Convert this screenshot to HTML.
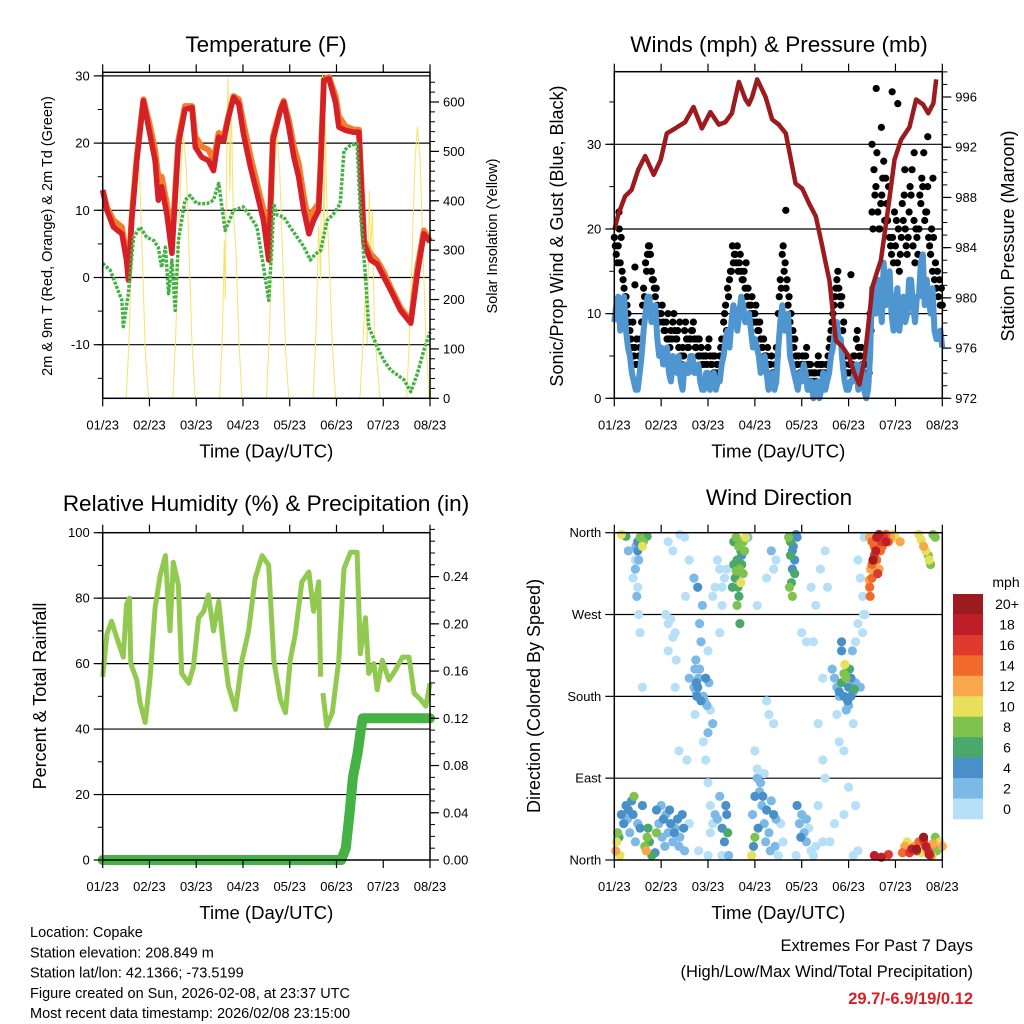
<!DOCTYPE html>
<html><head><meta charset="utf-8"><style>
body{margin:0;background:#fff;}
svg{display:block;font-family:"Liberation Sans",Arial,sans-serif;}
</style></head><body>
<svg id="s" width="1024" height="1024" viewBox="0 0 1024 1024"></svg>
<script>
// ---------- DATA ----------
const dayLabels = ["01/23","02/23","03/23","04/23","05/23","06/23","07/23","08/23"];
// Temperature (F)
const tempDays = [0,0.09,0.23,0.41,0.51,0.55,0.62,0.73,0.87,0.98,1.12,1.19,1.26,1.37,1.48,1.62,1.76,1.91,1.98,2.12,2.26,2.37,2.48,2.59,2.69,2.80,2.91,3.01,3.16,3.30,3.44,3.55,3.64,3.80,3.87,3.98,4.09,4.19,4.30,4.41,4.51,4.62,4.66,4.73,4.84,4.98,5.05,5.19,5.37,5.48,5.59,5.73,5.87,6.01,6.16,6.37,6.59,6.73,6.87,7.0];
const tempRed = [13,10,7.5,6.5,2.6,-0.4,8.5,17.4,26.3,22.4,17.4,11.5,13.5,9.5,3.6,19.9,25,25.3,19.4,17.9,17.4,15.9,20.9,20.4,23.9,26.8,25.8,21.4,16.4,12.5,8.5,2.6,20.4,24.9,26.1,22.4,17.9,15,10,6.5,8.5,10,16.4,29.3,29.6,26,22.4,21.9,21.6,21.6,5,2.6,2,0.1,-1.9,-4.9,-6.8,0.6,6.5,5.3];
const tempOrange = [13,10.5,8.5,7.5,3.5,0.5,9,18,26.5,23.5,19,15,15,11,5,20.5,25.5,25.5,21,19.5,19,17.5,21.5,21,24,27,26.5,23,18,14,10,4,21,25,26.3,23.5,19.5,17,12,8,10,11,17,29.5,29.8,27,24,22.5,22,22,5.5,3.5,2.5,0.8,-1.5,-4.5,-6.5,1.5,7,5.5];
const tdDays = [0,0.16,0.3,0.41,0.44,0.55,0.66,0.8,0.94,1.09,1.19,1.26,1.34,1.41,1.48,1.55,1.62,1.76,1.87,2.01,2.23,2.37,2.48,2.55,2.62,2.80,3.01,3.16,3.30,3.44,3.55,3.62,3.66,3.73,3.87,4.01,4.16,4.30,4.44,4.55,4.66,4.80,4.94,5.08,5.16,5.30,5.44,5.51,5.62,5.69,5.87,6.01,6.16,6.44,6.59,6.73,6.87,7.0];
const tdVals = [2.1,1.1,-1.4,-3.4,-7.3,-2.4,6,7.5,6,5.5,4.5,1.5,4.5,-2.4,2.6,-4.9,5.5,11.5,12.2,11,11,11.5,14,10.5,7,10,10.5,9,7.5,1.6,-3.4,5,11,9.3,9,7.5,6,4.6,2.6,3.5,4,8.5,9.5,11,18.9,19.7,19.9,10,0.1,-7.3,-10.3,-12.3,-13.8,-15.2,-17,-14.3,-10.8,-8.1];
const solarDays = [0.5,0.56,0.62,0.68,0.73,0.79,0.85,0.91,0.98, 1.5,1.56,1.62,1.68,1.73,1.79,1.85,1.91,1.98, 2.5,2.56,2.6,2.62,2.66,2.68,2.72,2.75,2.79,2.85,2.91,2.98, 3.5,3.56,3.62,3.68,3.73,3.79,3.85,3.91,3.98, 4.5,4.56,4.62,4.66,4.7,4.73,4.76,4.79,4.85,4.91,4.98, 5.5,5.56,5.62,5.66,5.7,5.73,5.77,5.81,5.86,5.93, 6.5,6.56,6.62,6.68,6.73,6.79,6.85,6.91,6.98];
const solarVals = [0,110,300,470,530,450,280,100,0, 0,120,310,480,530,460,290,110,0, 0,130,320,200,560,650,420,600,380,300,120,0, 0,120,300,470,540,450,280,100,0, 0,130,350,240,660,300,560,400,260,110,0, 0,100,220,110,420,300,380,140,80,0, 0,120,300,480,550,480,300,120,0];
// Winds (mph) & pressure (mb)
const windHours2 = 2; // sampling interval in hours
const windVals = [9,12,10,8,5,2,1,5,10,12,10,7, 6,4,3,5,3,2,4,3,5,3,2,1, 3,2,1,2,5,8,9,10,10,11,9,8, 7,5,4,3,2,1,6,11,8,5,3,1, 2,3,1,0,2,1,1,3,6,9,7,2, 1,2,4,3,1,1,13,10,12,16,12,10, 11,8,12,10,14,9,12,17,14,10,8,7,6];
const windVals2 = [11,8,12,6,3,1,3,8,12,9,11,5, 4,6,2,4,5,1,3,5,3,4,1,3, 1,3,2,4,7,6,11,8,12,9,10,6, 6,3,5,1,3,2,9,8,10,4,2,3, 4,1,2,1,0,3,2,5,8,7,4,1, 2,3,1,4,0,5,10,14,9,11,15,8, 13,10,9,14,11,12,16,11,12,13,7,8];
const gustVals = [19,18,15,12,8,5,4,9,16,18,14,11, 10,8,7,9,7,5,8,6,8,6,5,4, 6,4,3,5,9,13,15,17,16,14,12,11, 10,8,6,5,4,3,10,17,13,9,6,4, 4,5,3,2,4,3,3,6,10,14,11,4, 3,4,7,5,3,2,22,25,20,28,21,17, 18,15,21,17,24,16,20,25,22,17,14,12,11];
const gustVals2 = [17,16,13,10,6,4,6,13,17,15,12,9, 9,7,8,8,6,6,7,7,7,5,4,5, 5,3,4,7,11,14,16,18,15,13,11,10, 9,7,5,4,3,6,14,15,11,7,5,3, 4,4,2,3,3,3,4,8,12,13,8,3, 3,5,6,4,2,10,27,22,24,26,19,16, 16,19,20,22,18,19,23,21,19,15,13,11];
const gustVals3 = [18,20,14,11,7,6,5,11,15,17,13,10, 11,9,6,10,8,4,9,7,9,7,6,5, 7,5,4,6,10,12,18,16,17,15,13,12, 11,9,7,6,5,4,12,18,14,10,7,5, 5,6,4,3,5,4,4,7,11,15,12,5, 4,5,8,6,4,3,20,29,23,21,25,19, 21,17,24,19,27,20,24,29,25,20,16,14];
const gustVals4 = [16,19,12,9,9,7,7,12,18,14,13,10, 8,10,7,7,9,5,6,8,6,7,5,4, 4,5,3,6,8,15,17,15,14,16,10,9, 8,6,5,4,3,5,13,16,12,8,4,3, 3,4,3,2,4,2,5,9,13,12,9,3, 2,3,5,4,3,8,24,20,26,23,18,22, 20,23,18,25,21,17,26,22,18,19,15,13];
const gustOutDays = [5.05,3.66,5.59,5.93,6.05,0.44,0.44,6.69,0.1,0.75,6.4,6.2,5.5,5.7,6.8];
const gustOutVals = [14.6,22.2,36.6,36.2,34.8,15.5,13.4,30.9,22,17,29,27,30,32,26];
const presDays = [0,0.09,0.23,0.37,0.51,0.66,0.84,0.99,1.12,1.30,1.51,1.69,1.87,2.05,2.23,2.37,2.51,2.66,2.80,2.87,2.94,3.05,3.23,3.37,3.51,3.66,3.87,4.01,4.16,4.30,4.44,4.51,4.59,4.73,4.87,5.01,5.12,5.23,5.34,5.51,5.62,5.69,5.84,5.98,6.12,6.30,6.44,6.59,6.70,6.81,6.87];
const presVals = [985.4,986.7,988.1,988.6,990.2,991.3,989.8,991,993.1,993.5,994,995.2,993.5,994.8,993.8,994,994.7,997.2,995.8,995.4,996,997.4,996,994.2,993.8,993.1,989.1,988.7,987.5,986.5,984.1,982.8,981.4,976.6,976.1,975.3,974,973.1,975.1,980.9,982.2,983,987,991,992.6,993.6,995.8,995.4,994.7,995.5,997.4];
// Relative humidity & precipitation
const rhDays = [0,0.09,0.19,0.3,0.44,0.51,0.57,0.6,0.73,0.8,0.91,1.01,1.12,1.23,1.34,1.44,1.51,1.62,1.69,1.84,1.94,2.05,2.16,2.26,2.37,2.48,2.59,2.69,2.84,2.98,3.12,3.26,3.41,3.55,3.66,3.8,3.91,4.01,4.12,4.26,4.41,4.51,4.62,4.66];
const rhVals = [56,69,73,68,62,78,80,60,55,48,42,55,77,87,93,70,91,84,57,54,59,74,76,81,70,79,64,53,46,61,70,86,93,90,61,49,45,61,69,85,88,76,85,56];
const rhDays2 = [4.71,4.79,4.91,5.05,5.16,5.3,5.44,5.51,5.62,5.69,5.8,5.87,5.98,6.12,6.26,6.41,6.55,6.66,6.8,6.91,7.0];
const rhVals2 = [51,41,45,61,89,94,94,63,74,57,60,52,61,55,58,62,62,51,49,47,54];
const precipDays = [0,5.1,5.2,5.28,5.35,5.45,5.52,5.56,7.0];
const precipVals = [0,0,0.01,0.04,0.07,0.09,0.11,0.12,0.12];
// Wind direction (deg) colored by speed (mph)
const dirDays = [0.03,0.05,0.07,0.1,0.12,0.15,0.2,0.25,0.28,0.3,0.33,0.37,0.4,0.42,0.45,0.5,0.55,0.6,0.65,0.68,0.7,0.72,0.75,0.8,0.9,1.0,1.05,1.1,1.15,1.2,1.25,1.3,1.35,1.4,1.45,1.5,0.95,1.02,1.08,1.18,1.28,1.38,1.48,0.87,0.9,
0.15,0.25,0.55,0.6,0.62,0.7,0.5,0.52,0.45,0.48,0.5,0.55,0.52,0.6,0.3,0.5,0.4,0.45,0.46,
1.15,1.4,1.5,1.1,1.2,1.15,1.25,1.3,1.32,1.15,1.3,1.25,1.52,1.38,1.6,1.6,
1.7,1.78,1.82,1.85,1.8,1.75,1.78,1.72,1.82,1.9,1.95,1.92,1.98,1.85,1.75,2.02,2.05,2.0,1.95,1.9,2.1,2.0,1.88,1.72,1.55,1.6,1.8,2.0,1.74,1.76,1.7,
2.05,2.1,2.15,2.2,2.25,2.3,2.35,2.38,2.4,2.42,2.44,2.3,2.0,2.05,
2.3,2.25,2.2,2.3,2.25,2.1,2.15,2.35,2.4,
2.55,2.6,2.65,2.7,2.75,2.8,2.62,2.68,2.72,2.58,2.64,2.7,2.75,2.66,2.6,2.72,2.78,2.85,2.55,2.52,2.62,2.68,
2.95,3.0,3.05,3.1,3.15,3.2,3.25,3.3,3.35,3.4,3.45,2.97,2.93,3.0,3.07,3.17,3.23,3.33,3.43,3.5,3.55,3.6,3.05,3.12,3.2,
3.72,3.76,3.8,3.85,3.8,3.76,3.85,3.78,3.82,3.9,3.88,3.35,3.4,3.45,3.25,3.05,3.0,3.3,3.25,3.4,3.74,3.8,
3.9,3.95,4.0,4.05,4.1,4.15,4.2,4.25,3.98,4.1,3.88,4.3,4.35,4.45,
4.0,4.1,4.2,4.3,4.4,4.5,4.45,4.35,4.45,4.5,4.25,4.55,
4.7,4.75,4.8,4.85,4.9,4.92,4.95,5.0,5.05,5.1,5.15,4.85,4.85,4.8,4.9,4.95,5.0,5.02,5.08,5.15,5.2,5.1,4.8,4.75,4.9,4.65,5.25,4.98,5.05,5.12,
4.6,4.9,5.0,5.1,5.15,5.2,4.7,
5.2,5.25,5.3,5.32,5.35,5.3,5.33,
5.45,5.5,5.55,5.6,5.65,5.7,5.75,5.8,5.85,5.55,5.6,5.5,5.58,5.47,5.5,5.62,5.68,5.72,5.9,5.95,6.0,6.1,6.5,6.55,6.6,6.65,6.7,6.72,6.75,5.45,5.46,5.44,5.65,5.8,5.52,6.8,6.85,
5.55,5.7,5.85,6.15,6.2,6.25,6.3,6.35,6.4,6.45,6.5,6.55,6.6,6.65,6.7,6.75,6.8,6.85,6.9,6.95,7.0,6.45,6.72,6.78,6.6,6.88];
const dirDegs = [10,20,30,25,5,50,40,60,45,55,30,65,50,70,20,40,35,60,15,10,25,35,20,5,55,60,45,50,30,40,20,35,45,25,50,10,40,25,15,55,30,15,35,8,30,
358,356,355,345,350,356,350,330,320,290,300,250,270,190,340,340,310,330,345,
350,358,355,270,265,260,245,250,220,230,190,340,290,120,200,330,
310,300,260,240,200,195,190,210,210,180,200,175,170,175,185,195,165,140,110,130,150,230,280,160,110,40,10,5,220,180,190,
60,40,50,45,70,35,20,60,50,30,5,5,85,30,
300,320,330,280,250,290,300,310,320,
350,355,345,340,350,355,330,320,325,310,300,305,315,290,318,335,340,355,325,300,280,260,
50,70,90,75,60,40,55,30,65,50,45,15,5,25,35,70,20,10,15,5,40,20,100,85,95,
355,350,340,330,320,335,315,305,345,355,358,340,320,330,310,280,120,160,175,150,300,290,
60,40,50,30,20,35,10,5,25,45,5,15,60,20,
250,240,300,280,320,340,200,150,110,90,240,300,
200,190,185,195,205,215,200,190,180,185,195,240,230,180,180,165,170,210,230,240,260,150,130,160,120,210,190,175,200,188,
20,50,80,5,60,10,40,
330,310,290,270,270,250,355,
355,350,345,355,358,350,355,358,350,335,330,325,340,320,310,315,340,345,355,358,355,350,358,352,345,340,335,330,325,300,290,308,320,350,330,358,355,
5,3,6,8,15,20,8,12,15,10,20,8,25,15,10,5,18,25,12,20,15,12,6,4,22,10];
const dirSpeeds = [12,10,8,6,11,5,4,4,3,4,3,5,4,9,2,3,4,4,8,12,9,6,6,7,4,3,4,3,3,4,3,2,4,3,4,3,3,2,3,4,4,3,4,5,8,
10,6,9,10,8,6,4,2,2,2,1,1,1,1,2,4,1,1,2,
1,1,0,1,1,1,1,1,1,1,1,1,1,1,2,1,
3,4,2,3,3,4,4,2,2,2,4,2,2,4,3,2,1,2,1,1,2,1,2,1,1,1,1,1,3,4,2,
1,1,2,3,2,4,4,4,4,6,2,1,1,1,
1,1,1,1,1,1,1,1,1,
6,8,8,7,9,10,6,8,6,6,7,10,8,6,9,4,8,3,6,7,9,6,
3,4,3,2,2,2,4,2,3,4,2,5,10,8,4,4,3,3,2,1,1,1,1,2,1,
8,6,4,4,4,6,6,6,4,4,4,2,1,1,1,1,1,1,1,1,8,9,
4,3,2,2,2,1,1,1,4,2,1,1,1,1,
1,1,1,1,1,1,1,1,1,1,1,1,
2,2,4,6,8,10,8,4,4,2,2,4,4,2,4,2,2,6,2,1,1,1,1,1,1,2,2,4,4,6,
1,1,1,1,1,0,1,
1,1,1,1,1,1,0,
12,14,15,18,18,16,16,14,14,16,14,14,18,12,14,16,15,14,12,11,10,13,11,10,12,10,9,10,9,15,14,13,12,18,20,8,9,
18,18,16,14,12,10,16,18,12,16,14,10,20,18,16,14,12,8,6,10,12,20,18,10,16,8];
const cbLabels = ["20+","18","16","14","12","10","8","6","4","2","0"];
const cbColors = ["#9b1b1e","#bf1d2a","#e03a2f","#f26a2b","#f9a74b","#e8e05a","#7fc24d","#4aa86b","#4a90c8","#7cb9e6","#b6e0f8"];

// ---------- DRAW ----------
const NS="http://www.w3.org/2000/svg";
const svg=document.getElementById('s');
function el(tag,attrs,parent){const e=document.createElementNS(NS,tag);for(const k in attrs)e.setAttribute(k,attrs[k]);(parent||svg).appendChild(e);return e;}
function txt(x,y,s,size,anchor,parent,extra){const t=el('text',Object.assign({x:x,y:y,'font-size':size,'text-anchor':anchor||'middle',fill:'#000'},extra||{}),parent);t.textContent=s;return t;}
function lin(d0,d1,r0,r1){return v=>r0+(v-d0)*(r1-r0)/(d1-d0);}
function poly(xs,ys,fx,fy){return xs.map((x,i)=>fx(x).toFixed(1)+','+fy(ys[i]).toFixed(1)).join(' ');}

function panel(name){
  const g=el('g',{});
  
  
  return g;
}
function frame(g,L,R,T,B){const f=el('rect',{x:L,y:T,width:R-L,height:B-T,fill:'none',stroke:'#000','stroke-width':1.5},g);}
function xAxis(g,L,R,T,B){
  const fx=lin(0,7,L,R);
  const ga=el('g',{},g);
  dayLabels.forEach((s,i)=>{const x=fx(i);
    el('line',{x1:x,y1:B,x2:x,y2:B+8,stroke:'#000','stroke-width':1.2},ga);
    el('line',{x1:x,y1:T,x2:x,y2:T-8,stroke:'#000','stroke-width':1.2},ga);
    const t=txt(x,B+31,s,13,'middle',ga);});
  const tt=txt((L+R)/2,B+59,'Time (Day/UTC)',18.5,'middle',ga);
  return fx;
}
function yTicks(g,side,X,fy,majors,labels,minors,size){
  const ga=el('g',{},g);
  const s=side==='left'?-1:1;
  minors.forEach(v=>{const y=fy(v);el('line',{x1:X,y1:y,x2:X+s*5,y2:y,stroke:'#000','stroke-width':1},ga);});
  majors.forEach((v,i)=>{const y=fy(v);el('line',{x1:X,y1:y,x2:X+s*9,y2:y,stroke:'#000','stroke-width':1.2},ga);
    const t=txt(X+s*13,y+4.5,labels[i],size||13,side==='left'?'end':'start',ga);});
}
function grid(g,L,R,ys){ys.forEach(y=>{const l=el('line',{x1:L,y1:y,x2:R,y2:y,stroke:'#000','stroke-width':1.2},g);});}
function range(a,b,s){const r=[];for(let v=a;v<=b+1e-9;v+=s)r.push(Math.round(v*1000)/1000);return r;}

// Panel 1: Temperature
(function(){
  const L=102.7,R=430,T=72.3,B=398.3;
  const g=panel('temperature-panel');
  const fy=lin(30,-10,75.9,344.7), fs=lin(0,600,398.3,102);
  const fx=lin(0,7,L,R);
  grid(g,L,R,[30,20,10,0,-10].map(fy));
  const ys=el('polyline',{points:poly(solarDays,solarVals,fx,fs),fill:'none',stroke:'#f7e36b','stroke-width':1},g);
  
  const ot=el('polyline',{points:poly(tempDays,tempOrange,fx,fy),fill:'none',stroke:'#f47c2c','stroke-width':6,'stroke-linejoin':'round'},g);
  
  const rt=el('polyline',{points:poly(tempDays,tempRed,fx,fy),fill:'none',stroke:'#d42026','stroke-width':5.5,'stroke-linejoin':'round'},g);
  
  const td=el('polyline',{points:poly(tdDays,tdVals,fx,fy),fill:'none',stroke:'#44b144','stroke-width':3.5,'stroke-dasharray':'3 1.5','stroke-linejoin':'round'},g);
  
  frame(g,L,R,T,B);
  xAxis(g,L,R,T,B);
  yTicks(g,'left',L,fy,[30,20,10,0,-10],['30','20','10','0','-10'],range(-15,30,5));
  yTicks(g,'right',R,fs,range(0,600,100),range(0,600,100).map(String),range(0,640,20));
  const t=txt(266,52,'Temperature (F)',22.5,'middle',g);
  const a=txt(0,0,'2m & 9m T (Red, Orange) & 2m Td (Green)',14.5,'middle',g,{transform:'translate(52,236) rotate(-90)'});
  const b=txt(0,0,'Solar Insolation (Yellow)',14.5,'middle',g,{transform:'translate(497,236) rotate(-90)'});
})();

// Panel 2: Winds
(function(){
  const L=614.3,R=942.3,T=71.7,B=398.3;
  const g=panel('winds-panel');
  const fy=lin(0,30,398.3,144.3), fp=lin(972,996,398.3,97);
  const fx=lin(0,7,L,R);
  grid(g,L,R,[10,20,30].map(fy));
  const step=windHours2/24;
  const gg=el('g',{fill:'#000'},g);
  function dots(arr,off){arr.forEach((v,i)=>{const c=el('circle',{cx:fx((i+off)*step),cy:fy(v),r:3.6},gg);});}
  dots(gustVals,0);dots(gustVals2,0.5);dots(gustVals3,0.25);dots(gustVals4,0.75);
  gustOutVals.forEach((v,i)=>{const c=el('circle',{cx:fx(gustOutDays[i]),cy:fy(v),r:3.6},gg);});
  const wd=[],wv=[];
  windVals.forEach((v,i)=>{wd.push(i*step);wv.push(v);if(i<windVals2.length){wd.push((i+0.5)*step);wv.push(windVals2[i]);}});
  const bl=el('polyline',{points:poly(wd,wv,fx,fy),fill:'none',stroke:'#4f95d0','stroke-width':6,'stroke-linejoin':'round'},g);
  
  const pr=el('polyline',{points:poly(presDays,presVals,fx,fp),fill:'none',stroke:'#9b1b1e','stroke-width':4.5,'stroke-linejoin':'round'},g);
  
  frame(g,L,R,T,B);
  xAxis(g,L,R,T,B);
  yTicks(g,'left',L,fy,[0,10,20,30],['0','10','20','30'],range(0,35,5));
  yTicks(g,'right',R,fp,range(972,996,4),range(972,996,4).map(String),range(972,998,1));
  const t=txt(779,52,'Winds (mph) & Pressure (mb)',22.5,'middle',g);
  const a=txt(0,0,'Sonic/Prop Wind & Gust (Blue, Black)',18,'middle',g,{transform:'translate(563,236) rotate(-90)'});
  const b=txt(0,0,'Station Pressure (Maroon)',18,'middle',g,{transform:'translate(1014,236) rotate(-90)'});
})();

// Panel 3: RH & precip
(function(){
  const L=102.7,R=430,T=532.7,B=860;
  const g=panel('humidity-precip-panel');
  const fy=lin(0,100,860,532.7), fr=lin(0,0.12,860,718.3);
  const fx=lin(0,7,L,R);
  grid(g,L,R,[20,40,60,80].map(fy));
  const r1=el('polyline',{points:poly(rhDays,rhVals,fx,fy),fill:'none',stroke:'#92c950','stroke-width':5,'stroke-linejoin':'round'},g);
  
  const r2=el('polyline',{points:poly(rhDays2,rhVals2,fx,fy),fill:'none',stroke:'#92c950','stroke-width':5,'stroke-linejoin':'round'},g);
  
  const p=el('polyline',{points:poly(precipDays,precipVals,fx,fr),fill:'none',stroke:'#45b245','stroke-width':10,'stroke-linejoin':'round','stroke-linecap':'round'},g);
  
  frame(g,L,R,T,B);
  xAxis(g,L,R,T,B);
  yTicks(g,'left',L,fy,range(0,100,20),range(0,100,20).map(String),range(0,100,10));
  yTicks(g,'right',R,fr,range(0,0.24,0.04),['0.00','0.04','0.08','0.12','0.16','0.20','0.24'],range(0,0.28,0.01));
  const t=txt(266,511,'Relative Humidity (%) & Precipitation (in)',22.5,'middle',g);
  const a=txt(0,0,'Percent & Total Rainfall',18,'middle',g,{transform:'translate(46,696) rotate(-90)'});
})();

// Panel 4: Wind direction
(function(){
  const L=614.3,R=942.3,T=532.7,B=860;
  const g=panel('wind-direction-panel');
  const fy=lin(0,360,860,532.7);
  const fx=lin(0,7,L,R);
  grid(g,L,R,[90,180,270].map(fy));
  function col(s){let i=Math.floor(s/2);if(i>10)i=10;if(i<0)i=0;return cbColors[10-i];}
  const gp=el('g',{},g);
  const idx=dirDays.map((d,i)=>i).sort((a,b)=>dirSpeeds[a]-dirSpeeds[b]);
  idx.forEach(i=>{const c=el('circle',{cx:fx(dirDays[i]),cy:fy(dirDegs[i]),r:4.6,fill:col(dirSpeeds[i])},gp);
    });
  frame(g,L,R,T,B);
  xAxis(g,L,R,T,B);
  yTicks(g,'left',L,fy,[0,90,180,270,360],['North','East','South','West','North'],[]);
  const t=txt(779,505,'Wind Direction',22.5,'middle',g);
  const a=txt(0,0,'Direction (Colored By Speed)',18,'middle',g,{transform:'translate(540,696) rotate(-90)'});
  const cb=el('g',{},g);
  const h=(819-594)/11;
  cbColors.forEach((c,i)=>{const r=el('rect',{x:953,y:594+i*h,width:30,height:h+0.3,fill:c},cb);
    const t=txt(1007,594+i*h+h/2+5,cbLabels[i],14,'middle',cb);});
  const m=txt(1006,587,'mph',14,'middle',cb);
})();

// Footer text
(function(){
  const g=el('g',{});
  const lines=['Location: Copake','Station elevation: 208.849 m','Station lat/lon: 42.1366; -73.5199','Figure created on Sun, 2026-02-08, at 23:37 UTC','Most recent data timestamp: 2026/02/08 23:15:00'];
  lines.forEach((s,i)=>{const t=txt(30,937+i*20.3,s,14.5,'start',g);});
  const g2=el('g',{});
  const a=txt(973,951,'Extremes For Past 7 Days',16.5,'end',g2);
  const b=txt(973,977,'(High/Low/Max Wind/Total Precipitation)',16.5,'end',g2);
  const c=txt(973,1004,'29.7/-6.9/19/0.12',16.5,'end',g2,{fill:'#d42026','font-weight':'bold'});
})();
</script>
</body></html>
